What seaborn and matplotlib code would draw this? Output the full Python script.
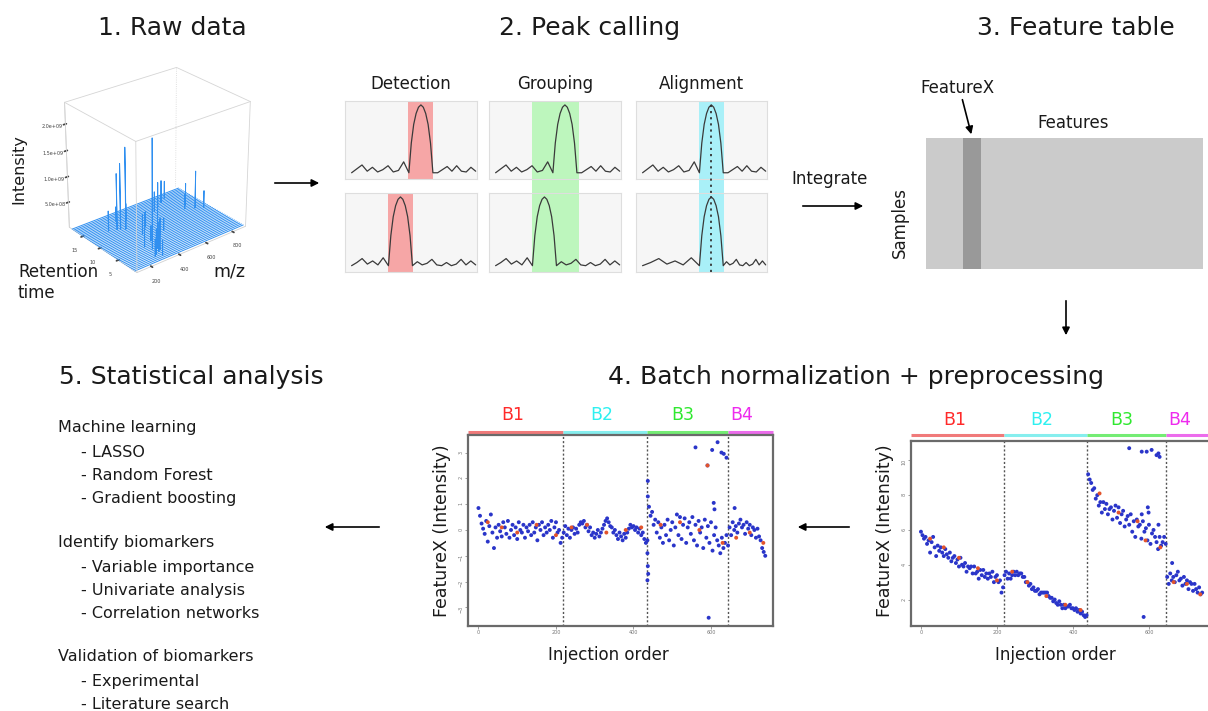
import numpy as np
import pandas as pd
import matplotlib
matplotlib.use("Agg")
import matplotlib.pyplot as plt
import seaborn as sns
from matplotlib.patches import FancyArrowPatch
from matplotlib.colors import ListedColormap
import matplotlib.transforms as mtrans

# ----------------------------------------------------------------- data
# Panel 1: raw LC-MS data (retention time x m/z x intensity)
rt_grid = [0.6 + 0.45 * i for i in range(40)]
mz_range = [100, 900]
spike_rt = [12.2, 12.8, 13.1, 4.0, 3.6, 10.5, 12.3, 9.4, 2.0, 2.5, 3.0, 3.5, 1.5, 4.5, 6.0, 7.0,
            8.0, 9.0, 10.0, 11.0, 14.0, 15.0, 16.0, 17.0, 11.5, 15.5, 14.5, 13.5, 5.5, 6.5]
spike_mz = [341, 314, 300, 320, 345, 815, 790, 857, 280, 300, 330, 350, 320, 380, 420, 450,
            500, 380, 420, 450, 600, 650, 700, 750, 760, 350, 400, 250, 300, 370]
spike_int = [1.6e9, 1.3e9, 1.1e9, 2.1e9, 0.9e9, 0.75e9, 0.45e9, 0.35e9, 0.35e9, 0.5e9, 0.4e9,
             0.6e9, 0.3e9, 0.45e9, 0.3e9, 0.35e9, 0.25e9, 0.4e9, 0.35e9, 0.3e9, 0.4e9, 0.5e9,
             0.45e9, 0.35e9, 0.3e9, 0.3e9, 0.35e9, 0.4e9, 0.55e9, 0.3e9]
mz_ticks = [200, 400, 600, 800]
rt_ticks = [5, 10, 15]
int_ticks = [5e8, 1e9, 1.5e9, 2e9]
int_tick_labels = ["5.0e+08", "1.0e+09", "1.5e+09", "2.0e+09"]

# Panel 2: peak calling schematics
noise_left_top = [8, 13, 18, 10, 15, 9, 12, 17, 9, 11, 22, 8]
noise_right_top = [8, 8, 12, 16, 10, 17, 10, 9, 15, 10]
noise_left_bot = [8, 12, 17, 10, 14, 9, 18, 8]
noise_right_bot = [8, 13, 9, 11, 16, 9, 8, 12, 8, 10, 16, 9, 14, 9]
peak_shape = [0, 38, 62, 76, 84, 87, 84, 76, 62, 38, 0]
peak_centers = {"Detection": (57.5, 42.0), "Grouping": (57.5, 42.0), "Alignment": (57.5, 57.5)}
band_top = {"Detection": (47.7, 66.7), "Grouping": (32.6, 68.2), "Alignment": (48.0, 67.0)}
band_bot = {"Detection": (32.6, 51.5), "Grouping": (32.6, 68.2), "Alignment": (48.0, 67.0)}

# Panel 3: feature table
n_samples, n_features, featurex_col = 8, 15, 2

# Panel 4: one feature over injection order, 4 batches
batch_names = ["B1", "B2", "B3", "B4"]
batch_start = [0, 220, 440, 648]
batch_bounds = [-27, 218, 436, 645, 760]
batch_label_x = [88, 318, 528, 680]
norm_b1 = [0.85, 0.55, 0.25, 0.05, -0.15, 0.35, -0.45, 0.15, 0.6, -0.1, -0.7, 0.1, -0.3, 0.2, -0.05,
           -0.25, 0.3, 0.1, -0.15, 0.35, -0.3, 0.0, 0.2, -0.2, 0.1, -0.35, 0.3, 0.0, -0.1, 0.2, -0.3,
           0.1, -0.05, 0.2, -0.2, 0.3, -0.1, 0.1, -0.4, 0.2, 0.0, 0.3, -0.2, 0.1, -0.1, 0.2, 0.0,
           0.35, -0.3, 0.1, 0.3, -0.1, 0.0, -0.5, -0.3]
norm_b2 = [-0.1, 0.15, -0.2, 0.05, -0.3, 0.0, 0.1, -0.15, 0.05, -0.1, 0.2, 0.3, 0.25, 0.35, 0.1,
           0.2, -0.05, 0.1, -0.2, -0.1, -0.3, -0.15, 0.0, -0.25, -0.1, 0.05, 0.2, 0.35, 0.45, 0.3,
           0.15, 0.1, -0.1, 0.0, -0.2, -0.35, -0.1, -0.25, -0.4, -0.15, -0.3, -0.1, 0.05, 0.2, 0.1,
           0.15, 0.0, 0.1, -0.1, 0.05, -0.2, -0.1, -0.35, -0.5, -0.4]
norm_b3 = [0.9, 0.55, 0.7, 0.2, 0.4, -0.1, 0.3, -0.3, 0.1, -0.5, 0.2, -0.2, 0.4, -0.4, 0.0, 0.3,
           -0.6, 0.1, 0.6, -0.2, 0.5, -0.35, 0.2, 0.45, -0.5, 0.1, 0.3, -0.15, 0.5, -0.4, 0.2, -0.6,
           0.35, -0.1, 0.1, -0.7, 0.4, -0.3, 0.15, -0.5, 0.3, -0.8, -0.2, 0.1, -0.4, -0.6, -0.9,
           -0.3, -0.7, -0.5, -0.2, -0.6]
norm_b4 = [0.1, -0.2, 0.3, 0.0, 0.15, -0.1, 0.25, 0.4, 0.1, 0.2, -0.15, 0.3, 0.05, 0.2, -0.2, 0.1,
           0.0, -0.3, 0.05, -0.25, -0.4, -0.7, -0.85, -1.0]
norm_out_x = [437, 437, 436, 437, 438, 436, 560, 591, 603, 617, 627, 633, 640, 607, 609, 594, 661]
norm_out_y = [1.9, 1.3, -0.9, -1.4, -1.7, -1.95, 3.2, 2.5, 3.1, 3.4, 3.0, 2.95, 2.8, 1.05, 0.8, -3.4, 0.85]

raw_b1 = [5.9, 5.7, 5.5, 5.6, 5.2, 5.4, 4.7, 5.3, 5.6, 5.0, 4.5, 5.1, 4.8, 5.0, 4.7, 4.5, 4.9, 4.6,
          4.4, 4.7, 4.2, 4.4, 4.5, 4.1, 4.3, 3.9, 4.4, 4.0, 3.9, 4.1, 3.6, 3.9, 3.8, 3.9, 3.5, 3.9,
          3.5, 3.6, 3.2, 3.7, 3.4, 3.7, 3.3, 3.5, 3.2, 3.5, 3.3, 3.6, 3.0, 3.3, 3.4, 3.0, 3.1, 2.4, 2.7]
raw_b2 = [3.4, 3.6, 3.2, 3.5, 3.2, 3.4, 3.6, 3.4, 3.6, 3.4, 3.5, 3.5, 3.3, 3.3, 3.0, 3.0, 2.8, 2.9,
          2.6, 2.7, 2.5, 2.5, 2.6, 2.3, 2.4, 2.4, 2.4, 2.4, 2.4, 2.2, 2.1, 2.1, 1.9, 2.0, 1.8, 1.7,
          1.9, 1.7, 1.5, 1.7, 1.5, 1.6, 1.6, 1.7, 1.5, 1.5, 1.4, 1.5, 1.3, 1.4, 1.2, 1.3, 1.1, 1.0, 1.1]
raw_b3 = [9.2, 8.9, 8.7, 8.3, 8.4, 7.8, 8.0, 7.4, 7.6, 7.0, 7.6, 7.2, 7.5, 6.9, 7.2, 7.3, 6.6, 7.1,
          7.4, 6.7, 7.3, 6.4, 6.9, 7.1, 6.2, 6.6, 6.8, 6.3, 6.9, 5.9, 6.5, 5.6, 6.6, 6.2, 6.3, 5.5,
          6.5, 5.9, 6.1, 5.4, 6.3, 5.2, 5.8, 6.0, 5.6, 5.3, 4.9, 5.6, 5.1, 5.3, 5.6, 5.2]
raw_b4 = [3.3, 2.9, 3.5, 3.1, 3.3, 3.0, 3.4, 3.6, 3.1, 3.2, 2.8, 3.3, 2.9, 3.1, 2.6, 3.0, 2.9, 2.5,
          2.9, 2.6, 2.4, 2.7, 2.3, 2.4]
raw_out_x = [548, 581, 594, 607, 620, 625, 628, 597, 599, 581, 625, 586, 661]
raw_out_y = [10.7, 10.5, 10.5, 10.6, 10.3, 10.4, 10.2, 7.3, 7.0, 6.9, 6.3, 1.0, 4.1]

qc_x = [24, 60, 100, 150, 200, 240, 280, 330, 380, 420, 470, 520, 570, 591, 630, 665, 700, 735]
qc_norm = [0.3, 0.1, -0.1, 0.2, -0.2, 0.1, 0.2, -0.1, 0.0, 0.1, 0.2, 0.3, 0.0, 2.5, -0.5, -0.3, -0.1, -0.5]
qc_raw = [5.5, 5.0, 4.4, 3.8, 3.1, 3.6, 3.0, 2.2, 1.7, 1.4, 8.1, 7.0, 6.5, 5.4, 5.0, 3.0, 2.9, 2.3]

norm_yticks = [-3, -2, -1, 0, 1, 2, 3]
raw_yticks = [2, 4, 6, 8, 10]
order_ticks = [0, 200, 400, 600]

# Panel 5 text
analysis_sections = [
    ("Machine learning", ["LASSO", "Random Forest", "Gradient boosting"]),
    ("Identify biomarkers", ["Variable importance", "Univariate analysis", "Correlation networks"]),
    ("Validation of biomarkers", ["Experimental", "Literature search"]),
]

# ----------------------------------------------------------------- setup
sns.set_theme(style="white")
plt.rcParams["font.family"] = ["DejaVu Sans"]

W, H = 1208, 711
fig = plt.figure(figsize=(W / 100, H / 100), dpi=100)
fig.patch.set_facecolor("white")


def rect(x0, y0, x1, y1):
    return [x0 / W, 1 - y1 / H, (x1 - x0) / W, (y1 - y0) / H]


def fx(x):
    return x / W


def fy(y):
    return 1 - y / H


def arrow(x0, y0, x1, y1):
    a = FancyArrowPatch((fx(x0), fy(y0)), (fx(x1), fy(y1)), transform=fig.transFigure,
                        arrowstyle="-|>", mutation_scale=11, lw=1.2, color="black")
    fig.add_artist(a)


TXT = "#1a1a1a"
fig.text(fx(172), fy(35), "1. Raw data", ha="center", va="baseline", fontsize=18, color=TXT)
fig.text(fx(590), fy(35), "2. Peak calling", ha="center", va="baseline", fontsize=18, color=TXT)
fig.text(fx(1076), fy(35), "3. Feature table", ha="center", va="baseline", fontsize=18, color=TXT)
fig.text(fx(856), fy(384), "4. Batch normalization + preprocessing", ha="center", va="baseline",
         fontsize=18, color=TXT)
fig.text(fx(191), fy(384), "5. Statistical analysis", ha="center", va="baseline", fontsize=18, color=TXT)

# ----------------------------------------------------------------- panel 1 (3D)
ax3 = fig.add_axes(rect(41, 58, 268, 280), projection="3d")
ax3.set_proj_type("persp")
ax3.set_box_aspect((4, 3.17, 3.95))
ax3.view_init(elev=27, azim=-129)
blue = "#2f8ff0"
snap = {}
for r, m, it in zip(spike_rt, spike_mz, spike_int):
    k = int(np.argmin(np.abs(np.array(rt_grid) - r)))
    snap.setdefault(k, []).append((m, it))
for k, rt in enumerate(rt_grid):
    xs, zs = [mz_range[0]], [0.0]
    for m, it in sorted(snap.get(k, [])):
        xs += [m - 1, m, m + 1]
        zs += [0.0, it, 0.0]
    xs.append(mz_range[1])
    zs.append(0.0)
    ax3.plot(xs, [rt] * len(xs), zs, color=blue, lw=0.7)
ZMAX = 2.4e9
ax3.set_xlim(mz_range)
ax3.set_ylim(0, 19)
ax3.set_zlim(0, ZMAX)
ax3.set_xticks(mz_ticks)
ax3.set_yticks(rt_ticks)
ax3.set_zticks(int_ticks)
ax3.set_zticklabels(int_tick_labels)
ax3.tick_params(labelsize=3.5, colors="#444444", pad=-2)
ax3.grid(False)
for axis in (ax3.xaxis, ax3.yaxis, ax3.zaxis):
    axis.set_pane_color((1, 1, 1, 0))
    axis.pane.set_edgecolor("#d0d0d0")
    axis.line.set_color("#d0d0d0")
    axis.line.set_linewidth(0.6)
# front box edges
x0, x1 = mz_range
y0, y1 = 0, 19
z1 = ZMAX
box_col = "#d5d5d5"
for xs_, ys_, zs_ in [([x0, x0], [y0, y0], [0, z1]), ([x0, x1], [y0, y0], [z1, z1]),
                      ([x0, x0], [y0, y1], [z1, z1]), ([x1, x1], [y0, y0], [0, z1]),
                      ([x0, x0], [y1, y1], [0, z1]), ([x1, x1], [y0, y1], [z1, z1]),
                      ([x0, x1], [y1, y1], [z1, z1])]:
    ax3.plot(xs_, ys_, zs_, color=box_col, lw=0.6)
ax3.plot([x1, x1], [y1, y1], [0, z1], color=box_col, lw=0.6, ls=":")

fig.text(fx(19), fy(169), "Intensity", rotation=90, ha="center", va="center", fontsize=11.5, color=TXT)
fig.text(fx(18), fy(298), "Retention\ntime", ha="left", va="baseline", fontsize=12, color=TXT)
fig.text(fx(229), fy(277), "m/z", ha="center", va="baseline", fontsize=12.5, color=TXT)
arrow(272, 183, 322, 183)

# ----------------------------------------------------------------- panel 2
band_colors = {"Detection": "#f6a6a6", "Grouping": "#bdf6bd", "Alignment": "#a9f0f8"}
col_x = {"Detection": (345, 477), "Grouping": (489, 621), "Alignment": (636, 767)}
rows = [(101, 179), (193, 272)]
gap_frac = (rows[1][0] - rows[0][1]) / (rows[0][1] - rows[0][0])
for name, (cx0, cx1) in col_x.items():
    fig.text(fx((cx0 + cx1) / 2), fy(89), name, ha="center", va="baseline", fontsize=12, color=TXT)
    for ri, (ry0, ry1) in enumerate(rows):
        ax = fig.add_axes(rect(cx0, ry0, cx1, ry1))
        ax.set_facecolor("#f6f6f6")
        for s in ax.spines.values():
            s.set_color("#dedede")
            s.set_linewidth(0.8)
        ax.set_xlim(0, 100)
        ax.set_ylim(0, 100)
        ax.set_xticks([])
        ax.set_yticks([])
        b0, b1 = (band_top if ri == 0 else band_bot)[name]
        continuous = name in ("Grouping", "Alignment") and ri == 0
        ax.axvspan(b0, b1, ymin=-gap_frac if continuous else 0, ymax=1, color=band_colors[name],
                   lw=0, clip_on=False, zorder=0.5)
        pc = peak_centers[name][ri]
        nl = noise_left_top if ri == 0 else noise_left_bot
        nr = noise_right_top if ri == 0 else noise_right_bot
        hw = 9.1
        xl = np.linspace(5, pc - hw, len(nl))
        xp = np.linspace(pc - hw, pc + hw, len(peak_shape))
        xr = np.linspace(pc + hw, 99, len(nr))
        xx = np.concatenate([xl, xp[1:-1], xr])
        yy = np.concatenate([nl, 8 + np.array(peak_shape[1:-1]), nr])
        sns.lineplot(x=xx, y=yy, ax=ax, color="#3a3a3a", lw=0.9, sort=False, estimator=None)
        if name == "Alignment" and ri == 0:
            ax.axvline(pc, ymin=-gap_frac, ymax=1, color="#333333", ls=(0, (1.2, 2.2)), lw=1.3,
                       clip_on=False, zorder=3)
        elif name == "Alignment":
            ax.axvline(pc, color="#333333", ls=(0, (1.2, 2.2)), lw=1.3, zorder=3)

fig.text(fx(830), fy(184), "Integrate", ha="center", va="baseline", fontsize=12, color=TXT)
arrow(800, 206, 866, 206)

# ----------------------------------------------------------------- panel 3
table = np.zeros((n_samples, n_features))
table[:, featurex_col] = 1
axt = fig.add_axes(rect(925.7, 138, 1202.7, 269))
sns.heatmap(table, ax=axt, cmap=ListedColormap(["#cbcbcb", "#999999"]), cbar=False,
            xticklabels=False, yticklabels=False, vmin=0, vmax=1, linewidths=0)
fig.text(fx(957), fy(93), "FeatureX", ha="center", va="baseline", fontsize=12, color=TXT)
fig.text(fx(1073), fy(128), "Features", ha="center", va="baseline", fontsize=12, color=TXT)
fig.text(fx(900), fy(222), "Samples", rotation=90, ha="center", va="center", fontsize=12, color=TXT)
arrow(961.7, 97, 972, 137)
arrow(1066, 298, 1066, 338)

# ----------------------------------------------------------------- panel 4
bar_cols = ["#f07a7a", "#86eeee", "#74ec74", "#ec6cec"]
lab_cols = ["#ff2a2a", "#2ef0f0", "#2fe82f", "#ee2aee"]


def batch_frame(values_by_batch, out_x, out_y, qc_vals):
    rows_ = []
    for name, start, vals in zip(batch_names, batch_start, values_by_batch):
        for i, v in enumerate(vals):
            rows_.append((start + 4 * i, v, "sample"))
    for x, v in zip(out_x, out_y):
        rows_.append((x, v, "sample"))
    for x, v in zip(qc_x, qc_vals):
        rows_.append((x, v, "QC"))
    return pd.DataFrame(rows_, columns=["order", "value", "type"])


def batch_panel(r, df, ylim, yticks, bar_y, lab_y):
    ax = fig.add_axes(r)
    ax.set_facecolor("white")
    sns.scatterplot(data=df, x="order", y="value", hue="type",
                    palette={"sample": "#2a35c9", "QC": "#e2542c"}, s=8, linewidth=0,
                    legend=False, ax=ax, zorder=3)
    for b in batch_bounds[1:-1]:
        ax.axvline(b, color="#555555", ls=(0, (1.5, 1.5)), lw=1.0, zorder=2)
    ax.set_xlim(batch_bounds[0], batch_bounds[-1])
    ax.set_ylim(*ylim)
    ax.set_xticks(order_ticks)
    ax.set_yticks(yticks)
    ax.tick_params(axis="both", direction="out", length=2, width=0.5, colors="#777777",
                   labelsize=3.5, pad=1, bottom=True, left=True)
    ax.tick_params(axis="y", labelrotation=90)
    ax.set_xlabel("")
    ax.set_ylabel("")
    for s in ax.spines.values():
        s.set_color("#6a6a6a")
        s.set_linewidth(1.6)
    tr = mtrans.blended_transform_factory(ax.transData, ax.transAxes)
    for i in range(4):
        ax.plot([batch_bounds[i], batch_bounds[i + 1]], [bar_y, bar_y], transform=tr,
                color=bar_cols[i], lw=2.2, clip_on=False, solid_capstyle="butt")
        ax.text(batch_label_x[i], lab_y, batch_names[i], transform=tr, color=lab_cols[i],
                fontsize=12.5, ha="center", va="center")
    return ax


df_norm = batch_frame([norm_b1, norm_b2, norm_b3, norm_b4], norm_out_x, norm_out_y, qc_norm)
df_raw = batch_frame([raw_b1, raw_b2, raw_b3, raw_b4], raw_out_x, raw_out_y, qc_raw)

# right (raw) panel extends past the figure edge
batch_panel(rect(910.7, 440.7, 910.7 + 0.38 * (batch_bounds[-1] - batch_bounds[0]), 626),
            df_raw, (0.48, 11.13), raw_yticks, 1.031, 1.112)
batch_panel(rect(468, 435, 773, 626), df_norm, (-3.72, 3.68), norm_yticks, 1.017, 1.105)

for xc in (441.7, 885):
    fig.text(fx(xc), fy(531), "FeatureX (Intensity)", rotation=90, ha="center", va="center",
             fontsize=12.5, color=TXT)
fig.text(fx(608), fy(660), "Injection order", ha="center", va="baseline", fontsize=12, color=TXT)
fig.text(fx(1055), fy(660), "Injection order", ha="center", va="baseline", fontsize=12, color=TXT)
arrow(852, 527, 795, 527)
arrow(382, 527, 322, 527)

# ----------------------------------------------------------------- panel 5
header_y = [432, 547, 661]
item_step = 23
for (head, items), hy in zip(analysis_sections, header_y):
    fig.text(fx(58), fy(hy), head, ha="left", va="baseline", fontsize=11.5, color=TXT)
    for j, it in enumerate(items):
        fig.text(fx(81), fy(hy + 25 + item_step * j), "- " + it, ha="left", va="baseline",
                 fontsize=11.5, color=TXT)

fig.savefig("out.png", dpi=100, facecolor="white")
